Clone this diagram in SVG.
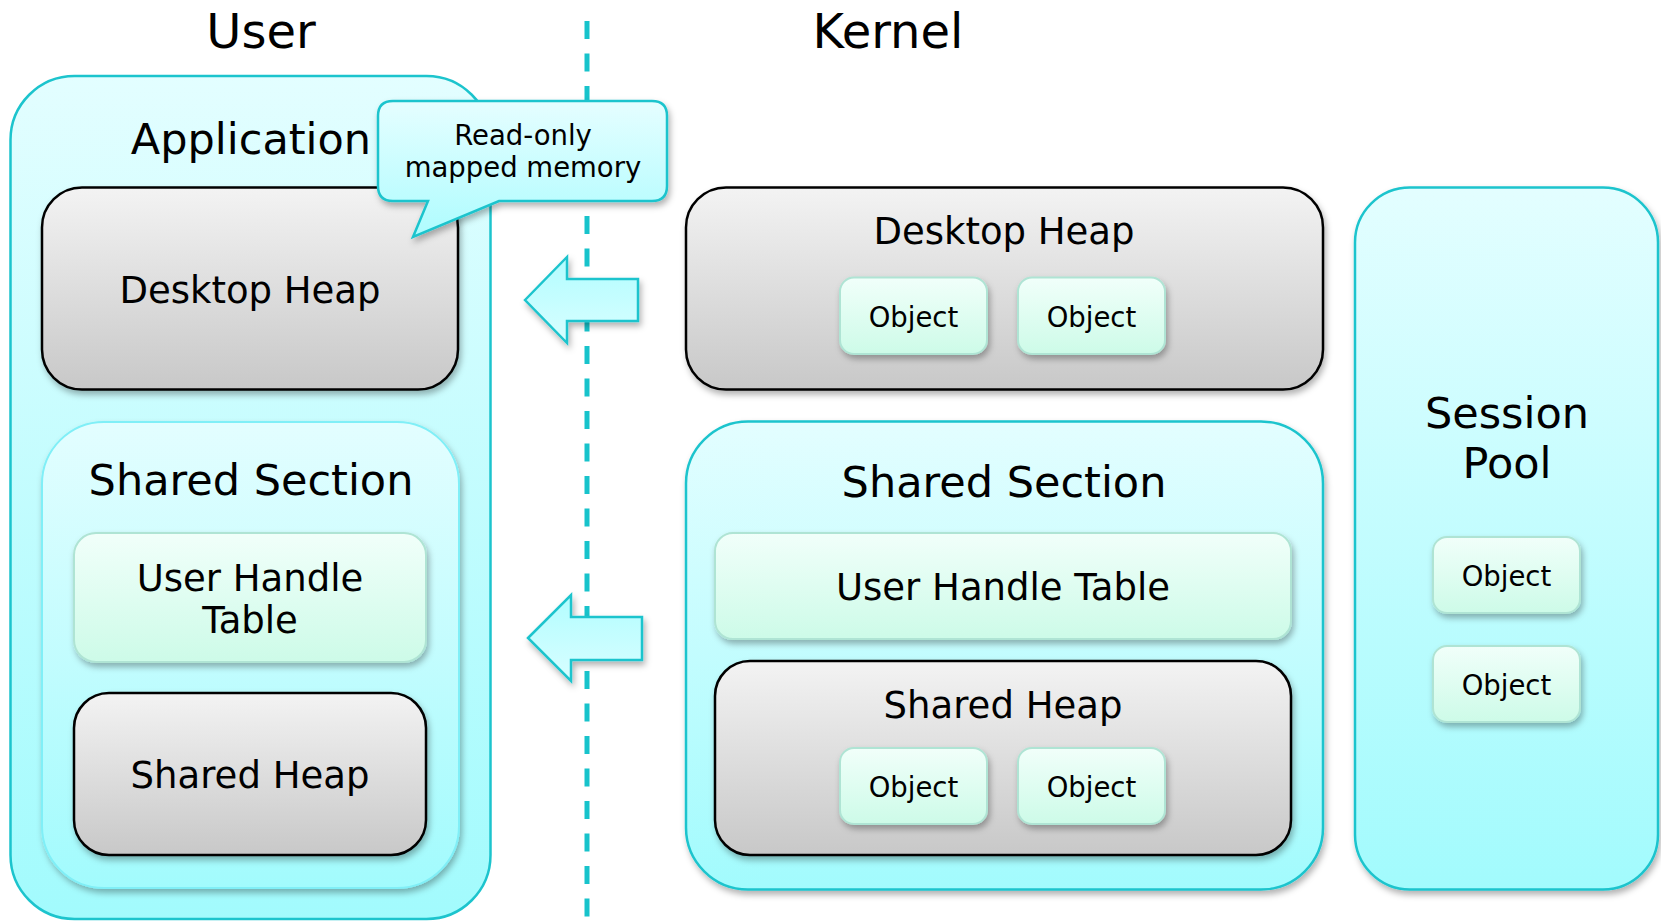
<svg xmlns="http://www.w3.org/2000/svg" width="1661" height="922" viewBox="0 0 1661 922">
  <defs>
    <linearGradient id="gCyan" x1="0" y1="0" x2="0" y2="1">
      <stop offset="0" stop-color="#E3FEFF"/>
      <stop offset="1" stop-color="#A2FBFD"/>
    </linearGradient>
    <linearGradient id="gGray" x1="0" y1="0" x2="0" y2="1">
      <stop offset="0" stop-color="#F3F3F3"/>
      <stop offset="1" stop-color="#C8C8C8"/>
    </linearGradient>
    <linearGradient id="gGreen" x1="0" y1="0" x2="0" y2="1">
      <stop offset="0" stop-color="#F1FFFA"/>
      <stop offset="1" stop-color="#CDFBE8"/>
    </linearGradient>
    <linearGradient id="gArrow" x1="0" y1="0" x2="0" y2="1">
      <stop offset="0" stop-color="#B2FDFF"/>
      <stop offset="1" stop-color="#D8FEFF"/>
    </linearGradient>
    <linearGradient id="gCallout" x1="0" y1="0" x2="0" y2="1">
      <stop offset="0" stop-color="#E5FEFF"/>
      <stop offset="1" stop-color="#AEFCFE"/>
    </linearGradient>
    <filter id="shadow" x="-10%" y="-10%" width="125%" height="130%">
      <feDropShadow dx="2" dy="4" stdDeviation="3" flood-color="#000" flood-opacity="0.3"/>
    </filter>
  </defs>
  <style>
    text { font-family: "DejaVu Sans", Verdana, sans-serif; fill: #000; text-anchor: middle; }
    .title { font-size: 48px; }
    .big { font-size: 43px; }
    .mid { font-size: 37px; }
    .obj { font-size: 27.5px; }
    .call { font-size: 27.5px; }
    .cyanbox { fill: url(#gCyan); stroke: #1CC4CD; stroke-width: 2.5; }
    .cyaninner { fill: url(#gCyan); stroke: #80EFF7; stroke-width: 2; filter: url(#shadow); }
    .graybox { fill: url(#gGray); stroke: #000; stroke-width: 2.5; filter: url(#shadow); }
    .greenbox { fill: url(#gGreen); stroke: #AFE4D4; stroke-width: 2; filter: url(#shadow); }
    .arrow { fill: url(#gArrow); stroke: #1CC4CD; stroke-width: 2.5; filter: url(#shadow); }
    .divider { stroke: #17C3CB; stroke-width: 5; stroke-dasharray: 18 14.5; fill: none; }
  </style>

  <rect width="1661" height="922" fill="#FFFFFF"/>

  <text class="title" x="261" y="48">User</text>
  <text class="title" x="888" y="48">Kernel</text>

  <g id="divider">
    <line class="divider" x1="587" y1="21" x2="587" y2="922"/>
  </g>

  <g id="application">
    <rect class="cyanbox" x="10.5" y="76" width="480" height="843" rx="64" ry="64"/>
    <text class="big" x="251" y="154">Application</text>
  </g>

  <g id="user-desktop-heap">
    <rect class="graybox" x="42" y="187.5" width="416" height="202" rx="40" ry="40"/>
    <text class="mid" x="250" y="303">Desktop Heap</text>
  </g>

  <g id="user-shared-section">
    <rect class="cyaninner" x="42" y="422" width="417" height="466" rx="62" ry="62"/>
    <text class="big" x="251" y="495">Shared Section</text>
  </g>

  <g id="user-handle-table">
    <rect class="greenbox" x="74" y="533" width="352" height="129" rx="22" ry="22"/>
    <text class="mid" x="250" y="591">User Handle</text>
    <text class="mid" x="250" y="633">Table</text>
  </g>

  <g id="user-shared-heap">
    <rect class="graybox" x="74" y="693" width="352" height="162" rx="35" ry="35"/>
    <text class="mid" x="250" y="788">Shared Heap</text>
  </g>

  <g id="callout">
    <path d="M393,101 L652,101 Q667,101 667,116 L667,186 Q667,201 652,201 L499,201 L413,237 L428,201 L393,201 Q378,201 378,186 L378,116 Q378,101 393,101 Z" fill="url(#gCallout)" stroke="#1CC4CD" stroke-width="2.5" filter="url(#shadow)"/>
    <text class="call" x="523" y="145">Read-only</text>
    <text class="call" x="523" y="177">mapped memory</text>
  </g>

  <g id="connectors">
    <polygon class="arrow" points="525,300 567,257 567,279 638,279 638,321 567,321 567,343"/>
    <polygon class="arrow" points="528,638 571,595 571,617 642,617 642,660 571,660 571,681"/>
  </g>

  <g id="kernel-desktop-heap">
    <rect class="graybox" x="686" y="187.5" width="637" height="202" rx="40" ry="40"/>
    <text class="mid" x="1004" y="244">Desktop Heap</text>
  </g>
  <g id="kdh-object-1">
    <rect class="greenbox" x="840" y="277.5" width="147" height="76.5" rx="14" ry="14"/>
    <text class="obj" x="913.5" y="327">Object</text>
  </g>
  <g id="kdh-object-2">
    <rect class="greenbox" x="1018" y="277.5" width="147" height="76.5" rx="14" ry="14"/>
    <text class="obj" x="1091.5" y="327">Object</text>
  </g>

  <g id="kernel-shared-section">
    <rect class="cyanbox" x="686" y="421.5" width="637" height="468" rx="62" ry="62" filter="url(#shadow)"/>
    <text class="big" x="1004" y="497">Shared Section</text>
  </g>
  <g id="kernel-handle-table">
    <rect class="greenbox" x="715" y="533" width="576" height="106" rx="18" ry="18"/>
    <text class="mid" x="1003" y="600">User Handle Table</text>
  </g>
  <g id="kernel-shared-heap">
    <rect class="graybox" x="715" y="661" width="576" height="194" rx="35" ry="35"/>
    <text class="mid" x="1003" y="718">Shared Heap</text>
  </g>
  <g id="ksh-object-1">
    <rect class="greenbox" x="840" y="748" width="147" height="76" rx="14" ry="14"/>
    <text class="obj" x="913.5" y="797">Object</text>
  </g>
  <g id="ksh-object-2">
    <rect class="greenbox" x="1018" y="748" width="147" height="76" rx="14" ry="14"/>
    <text class="obj" x="1091.5" y="797">Object</text>
  </g>

  <g id="session-pool">
    <rect class="cyanbox" x="1355" y="187.5" width="303" height="702" rx="55" ry="55" filter="url(#shadow)"/>
    <text class="big" x="1507" y="428">Session</text>
    <text class="big" x="1507" y="478">Pool</text>
  </g>
  <g id="sp-object-1">
    <rect class="greenbox" x="1433" y="537" width="147" height="76" rx="14" ry="14"/>
    <text class="obj" x="1506.5" y="586">Object</text>
  </g>
  <g id="sp-object-2">
    <rect class="greenbox" x="1433" y="646" width="147" height="76" rx="14" ry="14"/>
    <text class="obj" x="1506.5" y="695">Object</text>
  </g>
</svg>
